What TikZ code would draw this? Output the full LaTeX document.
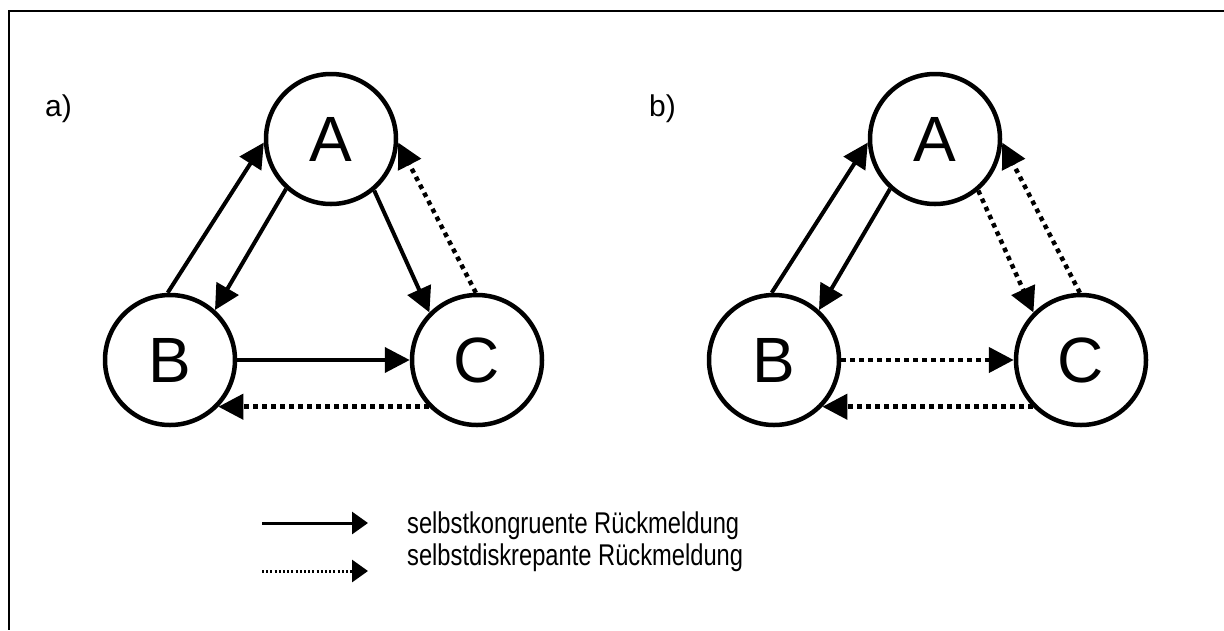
\documentclass[tikz,border=0pt]{standalone}
\usepackage{fontspec}
\setmainfont{Liberation Sans}
\newfontfamily\legendfont[FakeStretch=0.79]{Liberation Sans}
\usetikzlibrary{arrows.meta}

\begin{document}
\begin{tikzpicture}[x=1pt,y=1pt,
				person/.style={circle,draw,line width=4.5pt,minimum size=130pt,inner sep=0pt,
					font=\fontsize{64}{64}\selectfont},
				kongruent/.style={line width=4pt,-{Triangle[length=25pt,width=25pt]}},
				diskrepant/.style={kongruent,line width=4.5pt,dash pattern=on 4.5pt off 4.5pt},
				legend kongruent/.style={line width=3pt,-{Triangle[length=16pt,width=22pt]}},
				legend diskrepant/.style={legend kongruent,dash pattern=on 2pt off 2.2pt},
				legend text/.style={anchor=base west,inner sep=0pt,font=\legendfont\fontsize{30}{30}\selectfont},
				panel label/.style={anchor=base west,inner sep=0pt,font=\fontsize{30}{30}\selectfont}]
			 \useasboundingbox (0,0) rectangle (1224,-630);
			 \draw[line width=2.5pt] (1224,-11) -- (9,-11) -- (9,-630);

			 % a)
			 \node[panel label] (la) at (45,-116) {a)};
			 \node[person] (Aa) at (331,-139) {A};
			 \node[person] (Ba) at (170,-360) {B};
			 \node[person] (Ca) at (477,-360) {C};
			 \draw[kongruent] (Ba.92) -- (Aa.183);
			 \draw[kongruent] (Aa.228) -- (Ba.48);
			 \draw[kongruent] (Aa.310) -- (Ca.135);
			 \draw[diskrepant] (Ca.91) -- (Aa.357);
			 \draw[kongruent] (Ba.east) -- (Ca.west);
			 \draw[diskrepant] (Ca.224) -- (Ba.316);

			 % b)
			 \node[panel label] (lb) at (649,-116) {b)};
			 \node[person] (Ab) at (935,-139) {A};
			 \node[person] (Bb) at (774,-360) {B};
			 \node[person] (Cb) at (1081,-360) {C};
			 \draw[kongruent] (Bb.92) -- (Ab.183);
			 \draw[kongruent] (Ab.228) -- (Bb.48);
			 \draw[diskrepant] (Ab.310) -- (Cb.135);
			 \draw[diskrepant] (Cb.91) -- (Ab.357);
			 \draw[diskrepant] (Bb.east) -- (Cb.west);
			 \draw[diskrepant] (Cb.224) -- (Bb.316);

			 % legend
			 \coordinate (k1) at (262,-523);
			 \coordinate (k2) at (368,-523);
			 \coordinate (d1) at (262,-571);
			 \coordinate (d2) at (368,-571);
			 \draw[legend kongruent] (k1) -- (k2);
			 \draw[legend diskrepant] (d1) -- (d2);
			 \node[legend text] (tk) at (407,-533) {selbstkongruente Rückmeldung};
			 \node[legend text] (td) at (407,-565) {selbstdiskrepante Rückmeldung};
\end{tikzpicture}
\end{document}
